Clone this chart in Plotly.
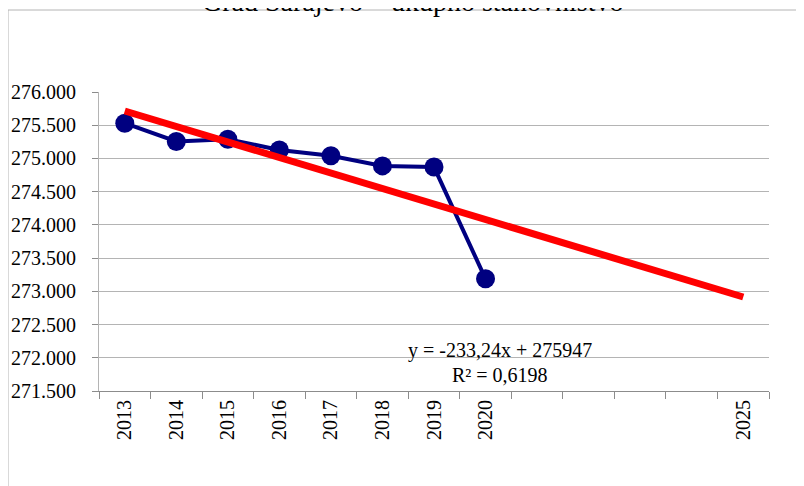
import plotly.graph_objects as go

categories = ["2013", "2014", "2015", "2016", "2017", "2018", "2019", "2020",
              "2021", "2022", "2023", "2024", "2025"]
tick_labels = ["2013", "2014", "2015", "2016", "2017", "2018", "2019", "2020",
               "", "", "", "", "2025"]
years = ["2013", "2014", "2015", "2016", "2017", "2018", "2019", "2020"]
population = [275530, 275255, 275290, 275128, 275040, 274888, 274870, 273188]
trend_years = ["2013", "2025"]
trend_values = [275713.76, 272914.88]
y_ticks = [271500, 272000, 272500, 273000, 273500, 274000, 274500, 275000, 275500, 276000]
y_tick_labels = ["271.500", "272.000", "272.500", "273.000", "273.500",
                 "274.000", "274.500", "275.000", "275.500", "276.000"]

FONT = "Liberation Serif"
GRID = "#b4b4b4"

fig = go.Figure()
fig.add_trace(go.Scatter(
    x=years, y=population, mode="lines+markers",
    line=dict(color="#000080", width=4),
    marker=dict(color="#000080", size=19),
    showlegend=False, cliponaxis=False,
))
fig.add_trace(go.Scatter(
    x=trend_years, y=trend_values, mode="lines",
    line=dict(color="#ff0000", width=7),
    showlegend=False, cliponaxis=False,
))

fig.update_layout(
    width=804, height=486,
    margin=dict(l=91, r=43, t=84, b=103),
    paper_bgcolor="white", plot_bgcolor="white",
    font=dict(family=FONT, size=20, color="black"),
    xaxis=dict(
        type="category", categoryorder="array", categoryarray=categories,
        tickmode="array", tickvals=categories, ticktext=tick_labels,
        range=[-0.5, 12.5], tickson="boundaries",
        ticks="outside", ticklen=7, tickcolor="#8c8c8c",
        showline=True, linecolor="#8c8c8c", linewidth=1,
        showgrid=False, tickangle=-90, automargin=False,
        tickfont=dict(family=FONT, size=20, color="black"),
        zeroline=False,
    ),
    yaxis=dict(
        range=[271500, 276000], tickmode="array",
        tickvals=y_ticks, ticktext=y_tick_labels,
        ticks="outside", ticklen=6, tickcolor="#8c8c8c",
        showline=True, linecolor="#b4b4b4", linewidth=1,
        showgrid=True, gridcolor=GRID, gridwidth=1, automargin=False,
        tickfont=dict(family=FONT, size=20, color="black"),
        zeroline=False, ticklabelstandoff=12,
    ),
    shapes=[dict(type="rect", xref="paper", yref="paper",
                 x0=-91 / 670, x1=1.2, y0=-0.5, y1=(383 - 2) / 299,
                 line=dict(color="#b4b4b4", width=1), fillcolor="rgba(0,0,0,0)",
                 layer="below")],
    annotations=[
        dict(text="Grad Sarajevo – ukupno stanovništvo", xref="paper", yref="paper",
             x=(405 - 91) / 670, y=(383 + 7) / 299, xanchor="center", yanchor="middle",
             showarrow=False, font=dict(family=FONT, size=28, color="black")),
        dict(text="y = -233,24x + 275947", xref="paper", yref="paper",
             x=(500 - 99) / 670, y=(391 - 350) / 299, xanchor="center", yanchor="middle",
             showarrow=False, font=dict(family=FONT, size=20, color="black")),
        dict(text="R² = 0,6198", xref="paper", yref="paper",
             x=(500 - 99) / 670, y=(391 - 375) / 299, xanchor="center", yanchor="middle",
             showarrow=False, font=dict(family=FONT, size=20, color="black")),
    ],
)

fig.write_html("out.html")
